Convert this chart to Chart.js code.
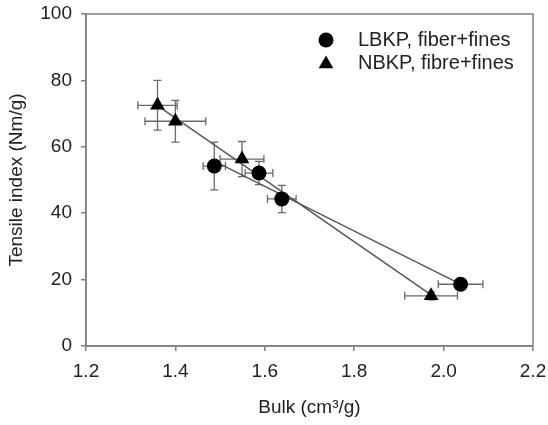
<!DOCTYPE html>
<html>
<head>
<meta charset="utf-8">
<script src="https://cdn.jsdelivr.net/npm/chart.js@4/dist/chart.umd.min.js"></script>
<style>
  body { margin: 0; background: #fff; }
  #wrap { width: 548px; height: 425px; }
</style>
</head>
<body>
<div id="wrap"><canvas id="grafik" width="548" height="425"></canvas></div>
<script>
// ================= DATA =================
const lbkpBulk = [1.487, 1.587, 1.638, 2.038];
const lbkpTensile = [54.2, 52.1, 44.3, 18.6];
const lbkpBulkErr = [0.025, 0.031, 0.032, 0.05];
const lbkpTensileErr = [7.2, 3.5, 4.1, 1.2];

const nbkpBulk = [1.36, 1.4, 1.549, 1.972];
const nbkpTensile = [72.5, 67.7, 56.3, 15.1];
const nbkpBulkErr = [0.044, 0.068, 0.049, 0.059];
const nbkpTensileErr = [7.5, 6.3, 5.3, 1.2];

// fit lines, ends
const lbkpFitBulk = [1.487, 2.038];
const lbkpFitTensile = [55.7, 18.6];
const nbkpFitBulk = [1.36, 1.972];
const nbkpFitTensile = [72.4, 15.4];

const xTicks = [1.2, 1.4, 1.6, 1.8, 2.0, 2.2];
const yTicks = [0, 20, 40, 60, 80, 100];

const seriesNames = ["LBKP, fiber+fines", "NBKP, fibre+fines"];

// ================= HELPERS =================
const FONT = "'Liberation Sans', Arial, sans-serif";
const TEXT = "#222";
const AXIS = "#808080";

function toPoints(xs, ys) {
  return xs.map((x, i) => ({ x: x, y: ys[i] }));
}

// ================= ERROR BARS =================
const errorBars = {
  id: "errorBars",
  beforeDatasetsDraw(chart) {
    const { ctx, scales } = chart;
    const sx = scales.x, sy = scales.y;
    const sets = [
      [lbkpBulk, lbkpTensile, lbkpBulkErr, lbkpTensileErr],
      [nbkpBulk, nbkpTensile, nbkpBulkErr, nbkpTensileErr],
    ];
    const cap = 4;
    ctx.save();
    ctx.strokeStyle = "#6a6a6a";
    ctx.lineWidth = 1.3;
    sets.forEach(([xs, ys, xe, ye]) => {
      xs.forEach((xv, i) => {
        const px = sx.getPixelForValue(xv);
        const py = sy.getPixelForValue(ys[i]);
        const y1 = sy.getPixelForValue(ys[i] + ye[i]);
        const y2 = sy.getPixelForValue(ys[i] - ye[i]);
        const x1 = sx.getPixelForValue(xv - xe[i]);
        const x2 = sx.getPixelForValue(xv + xe[i]);
        ctx.beginPath();
        ctx.moveTo(px, y1); ctx.lineTo(px, y2);
        ctx.moveTo(px - cap, y1); ctx.lineTo(px + cap, y1);
        ctx.moveTo(px - cap, y2); ctx.lineTo(px + cap, y2);
        ctx.moveTo(x1, py); ctx.lineTo(x2, py);
        ctx.moveTo(x1, py - cap); ctx.lineTo(x1, py + cap);
        ctx.moveTo(x2, py - cap); ctx.lineTo(x2, py + cap);
        ctx.stroke();
      });
    });
    ctx.restore();
  },
};

// ================= FRAME + LEGEND =================
const frameLegend = {
  id: "frameLegend",
  afterDraw(chart) {
    const { ctx, chartArea: a } = chart;
    ctx.save();
    ctx.strokeStyle = AXIS;
    ctx.lineWidth = 1.5;
    ctx.strokeRect(a.left, a.top, a.right - a.left, a.bottom - a.top);

    ctx.font = "20px " + FONT;
    ctx.textBaseline = "middle";
    const styles = [
      { pointStyle: "circle", radius: 7.5, rotation: 0, borderWidth: 0 },
      { pointStyle: "triangle", radius: 8.5, rotation: 0, borderWidth: 0 },
    ];
    const rows = [40, 63];
    seriesNames.forEach((name, i) => {
      ctx.fillStyle = "#000";
      Chart.helpers.drawPoint(ctx, styles[i], 326, rows[i] + (i ? 1 : 0));
      ctx.fillStyle = TEXT;
      ctx.fillText(name, 358, rows[i]);
    });
    ctx.restore();
  },
};

// ================= GRAFIK =================
const ctx = document.getElementById("grafik");

new Chart(ctx, {
  type: "scatter",
  data: {
    datasets: [
      {
        label: seriesNames[0],
        data: toPoints(lbkpBulk, lbkpTensile),
        pointStyle: "circle",
        pointRadius: 7.5,
        backgroundColor: "#000",
        borderColor: "#000",
        borderWidth: 0,
      },
      {
        label: seriesNames[1],
        data: toPoints(nbkpBulk, nbkpTensile),
        pointStyle: "triangle",
        pointRadius: 8.5,
        backgroundColor: "#000",
        borderColor: "#000",
        borderWidth: 0,
      },
      {
        type: "line",
        data: toPoints(lbkpFitBulk, lbkpFitTensile),
        borderColor: "#555",
        borderWidth: 1.4,
        pointRadius: 0,
        fill: false,
      },
      {
        type: "line",
        data: toPoints(nbkpFitBulk, nbkpFitTensile),
        borderColor: "#555",
        borderWidth: 1.4,
        pointRadius: 0,
        fill: false,
      },
    ],
  },
  options: {
    responsive: false,
    animation: false,
    layout: { padding: { top: 14, right: 15, left: 0, bottom: 0 } },
    plugins: {
      legend: { display: false },
      tooltip: { enabled: false },
    },
    scales: {
      x: {
        type: "linear",
        min: 1.2,
        max: 2.2,
        afterBuildTicks: (axis) => { axis.ticks = xTicks.map((v) => ({ value: v })); },
        afterFit: (axis) => {
          axis.height = 79;
          axis.paddingLeft = 0;
          axis.paddingRight = 0;
        },
        ticks: {
          callback: (v) => v.toFixed(1),
          font: { family: FONT, size: 19 },
          color: TEXT,
          padding: 9,
          maxRotation: 0,
        },
        grid: { drawOnChartArea: false, tickLength: 5, color: AXIS, lineWidth: 1.5 },
        border: { color: AXIS, width: 1.5 },
        title: {
          display: true,
          text: "Bulk (cm³/g)",
          font: { family: FONT, size: 19 },
          color: TEXT,
          padding: { top: 4, bottom: 6 },
        },
      },
      y: {
        min: 0,
        max: 100,
        afterBuildTicks: (axis) => { axis.ticks = yTicks.map((v) => ({ value: v })); },
        afterFit: (axis) => {
          axis.width = 86;
          axis.paddingTop = 0;
          axis.paddingBottom = 0;
        },
        ticks: {
          font: { family: FONT, size: 19 },
          color: TEXT,
          padding: 9,
        },
        grid: { drawOnChartArea: false, tickLength: 5, color: AXIS, lineWidth: 1.5 },
        border: { color: AXIS, width: 1.5 },
        title: {
          display: true,
          text: "Tensile index (Nm/g)",
          font: { family: FONT, size: 19 },
          color: TEXT,
          padding: { top: 5, bottom: 4 },
        },
      },
    },
  },
  plugins: [errorBars, frameLegend],
});
</script>
</body>
</html>
